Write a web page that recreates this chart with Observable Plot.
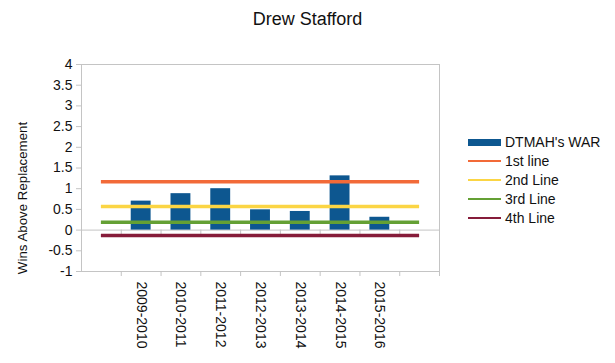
<!DOCTYPE html>
<html>
<head>
<meta charset="utf-8">
<script src="https://cdn.jsdelivr.net/npm/d3@7"></script>
<script src="https://cdn.jsdelivr.net/npm/@observablehq/plot@0.6"></script>
<style>
  body { margin: 0; background: #fff; font-family: "Liberation Sans", Arial, sans-serif; }
  #wrap { position: relative; width: 615px; height: 363px; }
  #title { position: absolute; left: 0; top: 10px; width: 615px; text-align: center; font-size: 18px; line-height: 18px; color: #111; }
  .row { position: absolute; left: 468px; height: 18px; display: flex; align-items: center; font-size: 14px; color: #111; }
  .sw { width: 33px; margin-right: 4px; }
</style>
</head>
<body>
<div id="wrap">
  <div id="chart"></div>
  <div id="title">Drew Stafford</div>
  <div id="legend"></div>
</div>
<script>
const seasons = ["2009-2010", "2010-2011", "2011-2012", "2012-2013", "2013-2014", "2014-2015", "2015-2016"];
const war = [0.7, 0.88, 1.0, 0.49, 0.45, 1.31, 0.31];
const lineNames = ["1st line", "2nd Line", "3rd Line", "4th Line"];
const lineValues = [1.17, 0.57, 0.19, -0.13];
const barName = "DTMAH's WAR";
const barColor = "#0d5790";
const lineColors = ["#f26a38", "#fbd544", "#64a034", "#861c3a"];
const yTicks = [-1, -0.5, 0, 0.5, 1, 1.5, 2, 2.5, 3, 3.5, 4];

const nSlots = seasons.length + 2; // empty slot on each side
const boundaries = d3.range(1, nSlots + 1);
const lines = lineNames.map((name, i) => ({name, value: lineValues[i], color: lineColors[i]}));
const bars = seasons.map((s, i) => ({season: s, value: war[i], pos: i + 1}));
const grey = "#c4c4c4";

const chart = Plot.plot({
  width: 615,
  height: 363,
  marginTop: 64,
  marginBottom: 92,
  marginLeft: 81,
  marginRight: 176,
  style: {fontFamily: "'Liberation Sans', Arial, sans-serif", color: "#111", background: "#fff"},
  x: {type: "linear", domain: [0, nSlots], axis: null},
  y: {domain: [-1, 4], axis: null},
  marks: [
    Plot.frame({stroke: grey}),
    Plot.ruleY([0], {stroke: grey}),
    // y axis
    Plot.axisY({ticks: yTicks, tickSize: 5, tickPadding: 4, tickFormat: d => String(d), fontSize: 14, stroke: grey, label: null}),
    // x ticks at slot boundaries, at bottom and below the zero line
    Plot.axisX({ticks: boundaries, tickSize: 5, tickFormat: () => "", stroke: grey, label: null}),
    Plot.ruleX(boundaries, {x: d => d, y1: 0, y2: 0, insetBottom: -5, stroke: grey}),
    // bars
    Plot.rectY(bars, {x1: d => d.pos + 0.25, x2: d => d.pos + 0.75, y1: 0, y2: d => d.value, fill: barColor}),
    // horizontal reference lines spanning the slot centres
    Plot.ruleY(lines, {y: d => d.value, x1: 0.5, x2: nSlots - 0.5, stroke: d => d.color, strokeWidth: 3.5}),
    // season labels
    Plot.text(bars, {x: d => d.pos + 0.5, y: -1, text: d => d.season, rotate: 90, textAnchor: "start", dy: 10, fontSize: 14, fill: "#111"}),
    // y label
    Plot.text(["Wins Above Replacement"], {frameAnchor: "left", textAnchor: "middle", text: d => d, rotate: -90, dx: -59, dy: 30, fontSize: 13.3, fill: "#111"})
  ]
});
document.getElementById("chart").appendChild(chart);

// legend
const legend = document.getElementById("legend");
const entries = [{name: barName, color: barColor, bar: true}, ...lines];
entries.forEach((e, i) => {
  const row = document.createElement("div");
  row.className = "row";
  row.style.top = (142 + 19 * i - 9) + "px";
  const sw = document.createElement("div");
  sw.className = "sw";
  sw.style.height = e.bar ? "7px" : "2px";
  sw.style.background = e.color;
  const t = document.createElement("span");
  t.textContent = e.name;
  row.appendChild(sw);
  row.appendChild(t);
  legend.appendChild(row);
});
</script>
</body>
</html>
